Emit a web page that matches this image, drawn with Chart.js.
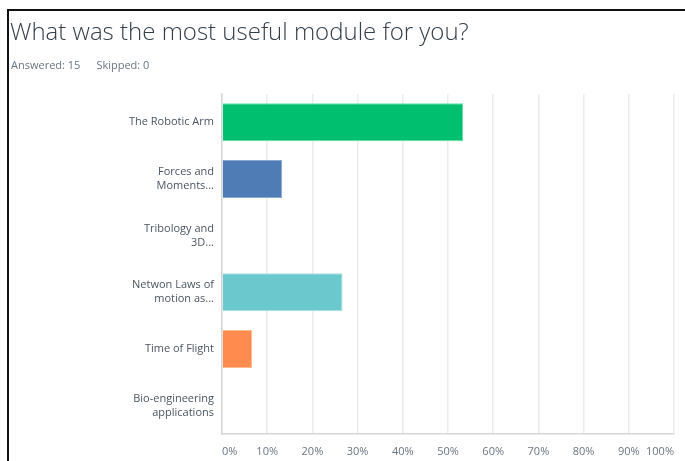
<!DOCTYPE html>
<html>
<head>
<meta charset="utf-8">
<script src="https://cdn.jsdelivr.net/npm/chart.js@4/dist/chart.umd.min.js"></script>
<style>
  html, body { margin:0; padding:0; background:#fff; }
  body { width:685px; height:461px; position:relative; overflow:hidden; font-family:'Open Sans', sans-serif; }
  .frame { position:absolute; left:7px; top:9px; right:-4px; bottom:-4px; border-top:2px solid #111; border-left:2px solid #111; }
  .title { position:absolute; left:10px; top:14px; font-size:24px; font-weight:300; color:#333e48; white-space:nowrap; }
  .meta { position:absolute; left:11px; top:57px; font-size:11px; color:#6b7680; white-space:nowrap; }
  .meta span { margin-right:16px; }
  #chart { position:absolute; left:0; top:0; }
</style>
</head>
<body>
<div class="frame"></div>
<canvas id="chart" width="685" height="461"></canvas>
<div class="title">What was the most useful module for you?</div>
<div class="meta"><span>Answered: 15</span><span>Skipped: 0</span></div>
<script>
// answer choices (wrapped like the survey tool does)
const categories = [
  ['The Robotic Arm'],
  ['Forces and', 'Moments...'],
  ['Tribology and', '3D...'],
  ['Netwon Laws of', 'motion as...'],
  ['Time of Flight'],
  ['Bio-engineering', 'applications']
];
const percents = [53.33, 13.33, 0, 26.67, 6.67, 0];
const barColors = ['#00BF6F', '#507CB6', '#F9BE00', '#6BC8CD', '#FF8B4F', '#7D5CA9'];
const barBorders = ['#5fe0a8', '#8aa8d2', '#fbd866', '#a6dfe2', '#ffb98f', '#a894c8'];
const xTicks = [0, 10, 20, 30, 40, 50, 60, 70, 80, 90, 100];

new Chart(document.getElementById('chart'), {
  type: 'bar',
  data: {
    labels: categories,
    datasets: [{
      data: percents,
      backgroundColor: barColors,
      borderColor: barBorders,
      borderWidth: 1,
      barPercentage: 0.67,
      categoryPercentage: 1
    }]
  },
  options: {
    indexAxis: 'y',
    responsive: false,
    animation: false,
    layout: { padding: { top: 94, right: 7, left: 0, bottom: 0 } },
    plugins: { legend: { display: false }, tooltip: { enabled: false } },
    scales: {
      x: {
        min: 0, max: 100,
        afterFit: s => { s.height = 27; },
        afterBuildTicks: s => { s.ticks = xTicks.map(v => ({ value: v })); },
        grid: { color: '#ececec', lineWidth: 1.5, drawTicks: false },
        border: { color: '#d6d6d6', width: 1.5 },
        ticks: {
          align: 'inner', padding: 11,
          color: '#6b7680', font: { family: 'Open Sans', size: 11 },
          callback: v => v + '%'
        }
      },
      y: {
        afterFit: s => { s.width = 222; },
        grid: { display: false, drawTicks: false },
        border: { color: '#d6d6d6', width: 1.5 },
        ticks: {
          padding: 8, color: '#4b5560',
          font: { family: 'Open Sans', size: 11, lineHeight: 1.27 }
        }
      }
    }
  }
});
</script>
</body>
</html>
